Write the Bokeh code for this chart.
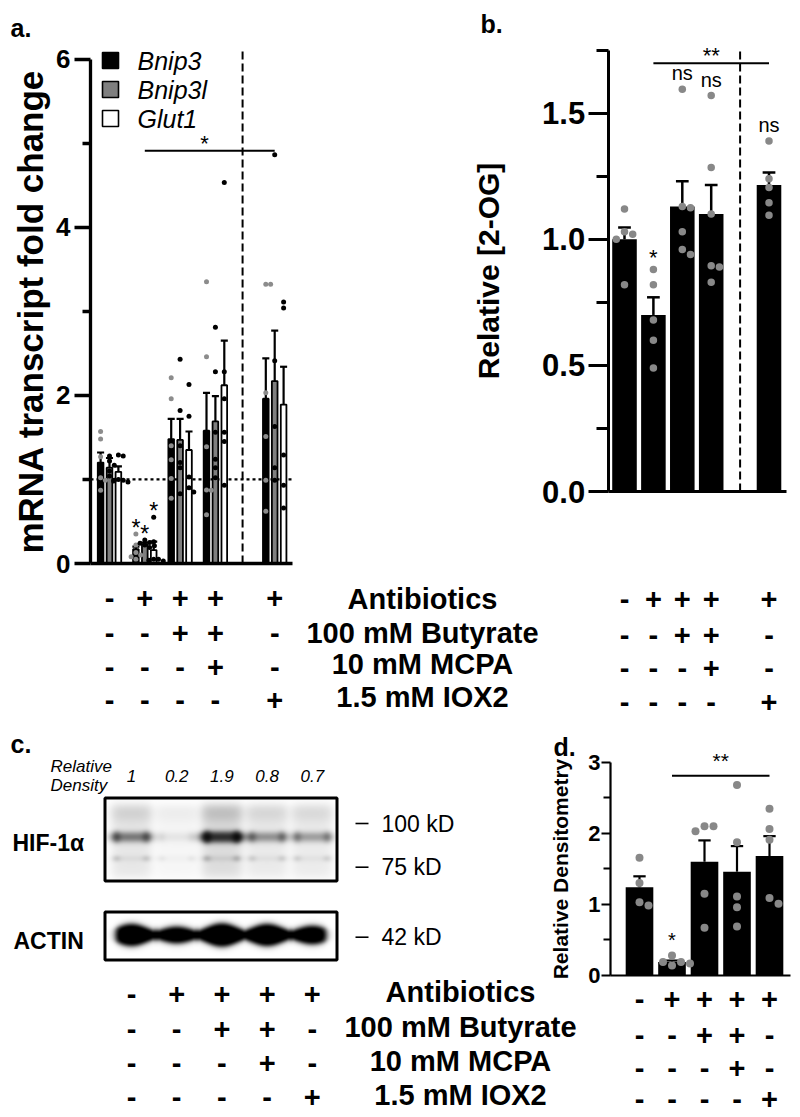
import numpy as np
from bokeh.plotting import figure
from bokeh.models import Range1d, LinearAxis, FixedTicker, LinearColorMapper, PrintfTickFormatter
from bokeh.core.properties import value
from bokeh.embed import file_html
from bokeh.resources import INLINE
from bokeh.palettes import Greys256

FONT = "Liberation Sans"

# ============================ data ============================
treatments = ["Antibiotics", "100 mM Butyrate", "10 mM MCPA", "1.5 mM IOX2"]
treatment_signs = [
    ["-", "+", "+", "+", "+"],
    ["-", "-", "+", "+", "-"],
    ["-", "-", "-", "+", "-"],
    ["-", "-", "-", "-", "+"],
]

# panel a : mRNA transcript fold change
genes = ["Bnip3", "Bnip3l", "Glut1"]
a_ticks = [0, 2, 4, 6]
a_minor = [1, 3, 5]
bnip3_mean = [1.20, 0.17, 1.48, 1.58, 1.96]
bnip3_sem = [0.12, 0.03, 0.24, 0.45, 0.48]
bnip3l_mean = [1.14, 0.23, 1.47, 1.69, 2.17]
bnip3l_sem = [0.115, 0.02, 0.25, 0.30, 0.60]
glut1_mean = [1.09, 0.16, 1.35, 2.12, 1.89]
glut1_sem = [0.065, 0.10, 0.22, 0.53, 0.45]
bnip3_pts = [[1.57, 1.48, 1.27, 1.02, 0.99, 0.87], [0.35, 0.22, 0.13, 0.10, 0.08, 0.05],
             [2.21, 1.96, 1.40, 1.235, 1.01, 0.775], [3.35, 2.46, 1.39, 0.875, 0.87, 0.58],
             [3.32, 3.32, 2.03, 1.51, 0.99, 0.62]]
bnip3l_pts = [[1.28, 1.22, 1.17, 1.10, 1.04, 0.99], [0.28, 0.25, 0.24, 0.22, 0.21, 0.19],
              [2.43, 1.82, 1.40, 1.20, 1.14, 0.83], [2.81, 2.28, 1.56, 1.24, 1.14, 1.02],
              [4.86, 2.41, 1.63, 1.14, 0.99]]
glut1_pts = [[1.29, 1.28, 1.00, 0.99, 0.98, 0.97], [0.55, 0.26, 0.05, 0.05, 0.04, 0.03],
             [2.13, 1.75, 1.03, 0.90, 0.85], [4.53, 2.28, 1.96, 1.56, 1.45, 0.93],
             [3.11, 3.04, 1.29, 0.93, 0.66]]
a_gene_sig = ["*", "*", "*"]
a_overall_sig = "*"

# panel b : relative [2-OG]
b_ticks = [0, 0.5, 1.0, 1.5]
b_minor = [0.25, 0.75, 1.25, 1.75]
og_mean = [1.00, 0.70, 1.13, 1.10, 1.215]
og_sem = [0.047, 0.07, 0.10, 0.115, 0.05]
og_pts = [[1.12, 1.03, 1.02, 1.00, 0.82], [0.88, 0.82, 0.68, 0.60, 0.49],
          [1.595, 1.13, 1.125, 1.03, 0.96, 0.94], [1.57, 1.285, 1.10, 0.895, 0.89, 0.83],
          [1.39, 1.24, 1.205, 1.145, 1.095]]
og_sig = ["", "*", "ns", "ns", "ns"]
b_overall_sig = "**"

# panel c : western blot
rel_density = [1, 0.2, 1.9, 0.8, 0.7]
rel_density_labels = ["1", "0.2", "1.9", "0.8", "0.7"]
actin_band = [1.0, 0.55, 1.1, 1.0, 0.7]
kd_labels = ["100 kD", "75 kD", "42 kD"]

# panel d : relative densitometry
d_ticks = [0, 1, 2, 3]
d_minor = [0.5, 1.5, 2.5]
dens_mean = [1.24, 0.19, 1.60, 1.46, 1.68]
dens_sem = [0.155, 0.02, 0.30, 0.36, 0.28]
dens_pts = [[1.655, 1.30, 1.03, 0.985], [0.28, 0.19, 0.19, 0.17, 0.14],
            [2.10, 2.10, 2.03, 1.15, 0.67], [2.68, 1.875, 1.11, 0.96, 0.69],
            [2.345, 2.06, 1.91, 1.09, 1.01]]
dens_sig = ["", "*", "", "", ""]
d_overall_sig = "**"

# ============================ layout ============================
W, H, OFF = 800, 1115, 0
PL, PR, PT, PB = OFF, OFF + W, OFF, OFF + H

A_X0, A_DX = 109.0, 35.3
A_Y0, A_DY = 563.0, -84.08
B_X0, B_DX = 624.0, 28.9
B_Y0, B_DY = 491.0, -252.2
C_X0, C_DX = 131.0, 45.2
D_X0, D_DX = 639.0, 32.5
D_Y0, D_DY = 975.0, -71.1


def x_rng(x0, dx):
    return Range1d(start=(PL - x0) / dx, end=(PR - x0) / dx)


def y_rng(y0, dy):
    return Range1d(start=(PB - y0) / dy, end=(PT - y0) / dy)


p = figure(width=W, height=H, x_range=Range1d(PL, PR), y_range=Range1d(PB, PT),
           x_axis_type=None, y_axis_type=None, min_border=0,
           output_backend="svg", toolbar_location=None)
p.outline_line_color = None
p.background_fill_color = "white"
p.extra_x_ranges = {"ax": x_rng(A_X0, A_DX), "bx": x_rng(B_X0, B_DX),
                    "cx": x_rng(C_X0, C_DX), "dx": x_rng(D_X0, D_DX)}
p.extra_y_ranges = {"ay": y_rng(A_Y0, A_DY), "by": y_rng(B_Y0, B_DY),
                    "dy": y_rng(D_Y0, D_DY), "bly": Range1d(-PB, -PT)}


def txt(xs, ys, texts, size, style="bold", align="center", baseline="middle",
        xn="default", yn="default", y_offset=0, color="black"):
    p.text(x=list(xs), y=list(ys), text=list(texts), text_font=value(FONT),
           text_font_size=f"{size}px", text_font_style=style, text_align=align,
           text_baseline=baseline, text_color=color, y_offset=y_offset,
           x_range_name=xn, y_range_name=yn)


def swarm(vals, ppu, sep):
    cands = [0.0]
    for m in range(1, 6):
        cands += [m * sep, -m * sep]
    placed, res = [], [0.0] * len(vals)
    for i in sorted(range(len(vals)), key=lambda k: -vals[k]):
        y = vals[i] * abs(ppu)
        chosen = cands[-1]
        for c in cands:
            if all((c - px) ** 2 + (y - py) ** 2 >= (0.95 * sep) ** 2 for px, py in placed):
                chosen = c
                break
        placed.append((chosen, y))
        res[i] = chosen
    return res


def axes(xn, yn, loc, x_end, bounds, ticks, minor, lw, t_out, m_out, lab_size,
         label, label_size, lab_stand, label_stand, fmt=None):
    ya = LinearAxis(x_range_name=xn, y_range_name=yn, fixed_location=loc, bounds=bounds,
                    ticker=FixedTicker(ticks=ticks, minor_ticks=minor), axis_label=label)
    if fmt is not None:
        ya.formatter = fmt
    ya.axis_line_width = lw
    ya.major_tick_line_width = lw
    ya.minor_tick_line_width = lw
    ya.major_tick_in = 0
    ya.major_tick_out = t_out
    ya.minor_tick_in = 0
    ya.minor_tick_out = m_out
    ya.major_label_text_font = FONT
    ya.major_label_text_font_style = "bold"
    ya.major_label_text_font_size = f"{lab_size}px"
    ya.major_label_text_color = "black"
    ya.major_label_standoff = lab_stand
    ya.axis_label_text_font = FONT
    ya.axis_label_text_font_style = "bold"
    ya.axis_label_text_font_size = f"{label_size}px"
    ya.axis_label_text_color = "black"
    ya.axis_label_standoff = label_stand
    p.add_layout(ya, "left")
    xa = LinearAxis(x_range_name=xn, y_range_name=yn, fixed_location=0, bounds=(loc, x_end),
                    ticker=FixedTicker(ticks=[], minor_ticks=[]))
    xa.axis_line_width = lw
    xa.major_tick_line_color = None
    xa.minor_tick_line_color = None
    xa.major_label_text_font_size = "0px"
    p.add_layout(xa, "below")


# ============================ panel a ============================
A_GAP = 0.68
a_pos = np.array([i + (A_GAP if i == 4 else 0.0) for i in range(5)])
A_STEP, A_BW = 0.252, 0.16
a_loc = (90 - A_X0) / A_DX
a_end = a_pos[-1] + 0.5
axes("ax", "ay", a_loc, a_end, (0, 6), a_ticks, a_minor, 3.3, 16, 8, 26,
     "mRNA transcript fold change", 35, 4, 3)

means = [bnip3_mean, bnip3l_mean, glut1_mean]
sems = [bnip3_sem, bnip3l_sem, glut1_sem]
pts = [bnip3_pts, bnip3l_pts, glut1_pts]
fills = ["black", "#7f7f7f", "white"]
dotc = ["#8c8c8c", "black", "black"]

p.line(x=[a_loc, a_end], y=[1, 1], line_dash="3 3", line_width=2.3, line_color="black",
       x_range_name="ax", y_range_name="ay")
a_div = (a_pos[3] + a_pos[4]) / 2 - 0.07
p.line(x=[a_div, a_div], y=[0, 6.12], line_dash="8 4", line_width=2, line_color="black",
       x_range_name="ax", y_range_name="ay")

for j in range(3):
    xs = a_pos + (j - 1) * A_STEP
    top = np.array(means[j])
    up = top + np.array(sems[j])
    p.vbar(x=xs, top=top, bottom=0, width=A_BW, fill_color=fills[j], line_color="black",
           line_width=1.8, x_range_name="ax", y_range_name="ay")
    p.segment(x0=xs, y0=top, x1=xs, y1=up, line_width=2.2, line_color="black",
              x_range_name="ax", y_range_name="ay")
    p.segment(x0=xs - 0.1, y0=up, x1=xs + 0.1, y1=up, line_width=2.2, line_color="black",
              x_range_name="ax", y_range_name="ay")
for j in range(3):
    xs = a_pos + (j - 1) * A_STEP
    dx, dy = [], []
    for g in range(5):
        offs = swarm(pts[j][g], A_DY, 4.8)
        dx += [xs[g] + o / A_DX for o in offs]
        dy += pts[j][g]
    p.scatter(x=dx, y=dy, size=5, fill_color=dotc[j], line_color=None,
              x_range_name="ax", y_range_name="ay")

sig_x = [a_pos[1] + (j - 1) * A_STEP for j in range(3)]
sig_y = [max(pts[j][1]) for j in range(3)]
txt(sig_x, sig_y, a_gene_sig, 23, style="normal", baseline="alphabetic",
    xn="ax", yn="ay", y_offset=-6)
p.line(x=[a_pos[1], a_pos[4]], y=[4.91, 4.91], line_width=2, line_color="black",
       x_range_name="ax", y_range_name="ay")
txt([(a_pos[1] + a_pos[4]) / 2 - 0.15], [4.91], [a_overall_sig], 22, style="normal",
    baseline="alphabetic", xn="ax", yn="ay", y_offset=-7)

# legend
leg_y = [60, 89, 118]
p.quad(left=[102] * 3, right=[118] * 3, top=[y - 8 for y in leg_y], bottom=[y + 8 for y in leg_y],
       fill_color=fills, line_color="black", line_width=1.6)
txt([137] * 3, leg_y, genes, 25, style="italic", align="left")

# ============================ panel b ============================
b_pos = np.array([i + (1 if i == 4 else 0) for i in range(5)], dtype=float)
b_loc = (607.7 - B_X0) / B_DX
b_end = b_pos[-1] + 0.62
axes("bx", "by", b_loc, b_end, (0, 1.75), b_ticks, b_minor, 3.0, 20, 12, 31,
     "Relative [2-OG]", 30, 3, 34, fmt=PrintfTickFormatter(format="%.1f"))
b_div = (b_pos[3] + b_pos[4]) / 2
p.line(x=[b_div, b_div], y=[0, 1.757], line_dash="8 4", line_width=2, line_color="black",
       x_range_name="bx", y_range_name="by")
og_top = np.array(og_mean)
og_up = og_top + np.array(og_sem)
p.vbar(x=b_pos, top=og_top, bottom=0, width=0.85, fill_color="black", line_color=None,
       x_range_name="bx", y_range_name="by")
p.segment(x0=b_pos, y0=og_top, x1=b_pos, y1=og_up, line_width=2.5, line_color="black",
          x_range_name="bx", y_range_name="by")
p.segment(x0=b_pos - 0.22, y0=og_up, x1=b_pos + 0.22, y1=og_up, line_width=2.5,
          line_color="black", x_range_name="bx", y_range_name="by")
bx_, by_ = [], []
for g in range(5):
    offs = swarm(og_pts[g], B_DY, 8.2)
    bx_ += [b_pos[g] + o / B_DX for o in offs]
    by_ += og_pts[g]
p.scatter(x=bx_, y=by_, size=7.5, fill_color="#888888", line_color=None,
          x_range_name="bx", y_range_name="by")
for g in range(5):
    if og_sig[g] == "ns":
        txt([b_pos[g]], [max(og_pts[g])], ["ns"], 20, style="normal", baseline="alphabetic",
            xn="bx", yn="by", y_offset=-16)
    elif og_sig[g]:
        txt([b_pos[g]], [max(og_pts[g])], [og_sig[g]], 22, style="normal",
            baseline="alphabetic", xn="bx", yn="by", y_offset=-12)
p.line(x=[b_pos[1], b_pos[4]], y=[1.698, 1.698], line_width=2, line_color="black",
       x_range_name="bx", y_range_name="by")
txt([(b_pos[1] + b_pos[4]) / 2], [1.698], [b_overall_sig], 22, style="normal",
    baseline="alphabetic", xn="bx", yn="by", y_offset=-8)

# ============================ tables (top) ============================
a_rows = [597, 632, 666, 699]
b_rows = [598, 634, 667, 701]
lab_rows = [598, 632, 663, 696]
for r in range(4):
    txt(a_pos, [a_rows[r]] * 5, treatment_signs[r], 29, xn="ax")
    txt(b_pos, [b_rows[r]] * 5, treatment_signs[r], 29, xn="bx")
txt([422] * 4, lab_rows, treatments, 29)

# ============================ panel c ============================
lanes = np.arange(5)
txt([50, 50], [766, 785], ["Relative", "Density"], 17, style="italic", align="left")
txt(lanes, [775] * 5, rel_density_labels, 17, style="italic", xn="cx")

HX0, HX1, HY0, HY1 = 106, 335, 799, 879
AX0, AX1, AY0, AY1 = 106, 335, 913, 958
cmap = LinearColorMapper(palette=list(reversed(Greys256)), low=0, high=1)


def hif_img():
    X, Y = np.meshgrid(np.arange(HX0, HX1) + 0.5, np.arange(HY0, HY1) + 0.5)
    dark = np.zeros_like(X)
    for i, d in enumerate(rel_density):
        cx = C_X0 + i * C_DX
        u = np.abs(X - cx)
        mask = 1 / (1 + np.exp((u - 19.5) / 3.0))
        rim = np.exp(-((u - 15.5) / 4.5) ** 2)
        main = np.exp(-((Y - 836.5) / 5.0) ** 2)
        lower = np.exp(-((Y - 858) / 3.2) ** 2) * (0.3 + 0.9 * rim)
        smear = 1 / (1 + np.exp((803 - Y) / 3)) / (1 + np.exp((Y - 877) / 3))
        smear = smear * (0.6 + 0.6 * np.exp(-((Y - 812) / 10) ** 2))
        s = mask * (0.85 * d ** 1.4 * (0.75 + 0.75 * rim) * main
                    + 0.16 * d ** 0.6 * lower + 0.17 * d ** 0.6 * smear)
        dark += 1 - np.exp(-s)
    return np.clip(dark, 0, 1)


def actin_img():
    X, Y = np.meshgrid(np.arange(AX0, AX1) + 0.5, np.arange(AY0, AY1) + 0.5)
    hh = np.zeros_like(X)
    for i, t in enumerate(actin_band):
        cx = C_X0 + i * C_DX
        hh = np.maximum(hh, (5 + 6 * t) * np.exp(-((X - cx) / 24) ** 2))
    hh = np.maximum(hh, 5)
    env = 1 / (1 + np.exp((115 - X) / 2.0)) / (1 + np.exp((X - 326) / 2.0))
    dark = 1.15 / (1 + np.exp((np.abs(Y - 934.5) - hh) / 1.6)) * env
    return np.clip(dark, 0, 1)


p.image(image=[hif_img()[::-1]], x=HX0, y=-HY1, dw=HX1 - HX0, dh=HY1 - HY0,
        color_mapper=cmap, y_range_name="bly")
p.image(image=[actin_img()[::-1]], x=AX0, y=-AY1, dw=AX1 - AX0, dh=AY1 - AY0,
        color_mapper=cmap, y_range_name="bly")
p.quad(left=[104.5, 104.5], right=[336.5, 336.5], top=[797.5, 911.5], bottom=[880.5, 959.5],
       fill_color=None, line_color="black", line_width=3)
kd_y = [823, 866.7, 936.7]
p.segment(x0=[355] * 3, y0=kd_y, x1=[368] * 3, y1=kd_y, line_width=1.6, line_color="black")
txt([381] * 3, kd_y, kd_labels, 23, style="normal", align="left")
txt([12, 13], [842, 940], ["HIF-1α", "ACTIN"], 23, align="left")

c_rows = [993, 1028, 1062, 1096]
d_rows = [998, 1034, 1067, 1098]
lab2_rows = [991, 1026, 1060, 1094]
for r in range(4):
    txt(lanes, [c_rows[r]] * 5, treatment_signs[r], 29, xn="cx")
    txt(np.arange(5), [d_rows[r]] * 5, treatment_signs[r], 29, xn="dx")
txt([460] * 4, lab2_rows, treatments, 29)

# ============================ panel d ============================
d_pos = np.arange(5, dtype=float)
d_loc = (610 - D_X0) / D_DX
d_end = d_pos[-1] + 0.65
axes("dx", "dy", d_loc, d_end, (0, 3), d_ticks, d_minor, 2.2, 9, 7, 22,
     "Relative Densitometry", 21, 1, 13)
d_top = np.array(dens_mean)
d_up = d_top + np.array(dens_sem)
p.vbar(x=d_pos, top=d_top, bottom=0, width=0.85, fill_color="black", line_color=None,
       x_range_name="dx", y_range_name="dy")
p.segment(x0=d_pos, y0=d_top, x1=d_pos, y1=d_up, line_width=2.2, line_color="black",
          x_range_name="dx", y_range_name="dy")
p.segment(x0=d_pos - 0.19, y0=d_up, x1=d_pos + 0.19, y1=d_up, line_width=2.2,
          line_color="black", x_range_name="dx", y_range_name="dy")
ddx, ddy = [], []
for g in range(5):
    offs = swarm(dens_pts[g], D_DY, 9.0)
    ddx += [d_pos[g] + o / D_DX for o in offs]
    ddy += dens_pts[g]
p.scatter(x=ddx, y=ddy, size=8, fill_color="#888888", line_color=None,
          x_range_name="dx", y_range_name="dy")
for g in range(5):
    if dens_sig[g]:
        txt([d_pos[g]], [max(dens_pts[g])], [dens_sig[g]], 20, style="normal",
            baseline="alphabetic", xn="dx", yn="dy", y_offset=-16)
p.line(x=[d_pos[1], d_pos[4]], y=[2.81, 2.81], line_width=2, line_color="black",
       x_range_name="dx", y_range_name="dy")
txt([(d_pos[1] + d_pos[4]) / 2], [2.81], [d_overall_sig], 21, style="normal",
    baseline="alphabetic", xn="dx", yn="dy", y_offset=-15)

# panel letters
txt([10, 480, 10, 553], [27, 23, 743, 746], ["a.", "b.", "c.", "d."], 25, align="left",
    baseline="alphabetic")

open("out.html", "w").write(file_html(p, INLINE))
